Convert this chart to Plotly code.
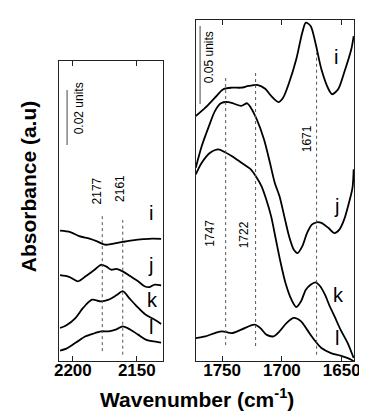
import plotly.graph_objects as go

# ---------------- data (absorbance in milli-units, stacked offsets) ----------------
# Left panel (CO region)
L_i_wn = [2210, 2202, 2195, 2187, 2181, 2175, 2169, 2161, 2152, 2145, 2138, 2131]
L_i_a = [47.5, 47.0, 45.5, 44.6, 43.6, 42.4, 42.7, 43.4, 44.1, 44.4, 44.6, 44.5]

L_j_wn = [2210, 2203, 2196, 2190, 2183, 2178, 2174, 2170, 2166, 2161, 2155, 2149, 2144, 2140, 2136, 2131]
L_j_a = [31.3, 30.7, 29.1, 30.9, 33.3, 35.1, 34.5, 33.3, 33.6, 32.7, 30.9, 29.1, 27.3, 27.0, 27.9, 27.6]

L_k_wn = [2210, 2205, 2198, 2192, 2185, 2178, 2172, 2166, 2161, 2156, 2150, 2143, 2136, 2131]
L_k_a = [12.1, 13.1, 15.7, 19.4, 22.4, 21.8, 22.4, 24.0, 25.5, 23.0, 20.0, 16.9, 15.1, 13.6]

L_l_wn = [2210, 2205, 2197, 2190, 2183, 2178, 2172, 2166, 2161, 2155, 2149, 2143, 2138, 2131]
L_l_a = [3.9, 4.6, 7.0, 9.1, 10.2, 10.9, 10.9, 11.6, 12.7, 11.5, 9.7, 7.9, 7.3, 6.8]

# Right panel (C=O region)
R_i_wn = [1772, 1764, 1756, 1749, 1742, 1734, 1728, 1720, 1714, 1709, 1703, 1699, 1694,
          1688, 1683, 1680, 1676, 1672, 1667, 1661, 1658, 1653, 1648, 1642, 1640]
R_i_a = [157.2, 162.6, 169.0, 174.4, 175.4, 175.4, 176.5, 177.1, 174.7, 170.1, 166.2, 169.0, 178.6,
         193.6, 210.6, 217.1, 214.9, 204.2, 187.2, 174.4, 171.2, 174.4, 185.0, 200.0, 208.5]

R_j_wn = [1772, 1767, 1761, 1756, 1751, 1745, 1740, 1734, 1729, 1726, 1721, 1715, 1710, 1706,
          1702, 1698, 1694, 1690, 1687, 1683, 1679, 1675, 1671, 1667, 1661, 1656, 1652, 1648,
          1644, 1641, 1640]
R_j_a = [124.1, 138.0, 150.8, 160.4, 165.4, 166.2, 165.1, 163.7, 165.4, 162.6, 155.1, 142.3, 127.3, 114.5,
         105.8, 92.9, 80.1, 71.5, 69.4, 73.7, 82.2, 87.6, 89.1, 88.7, 85.4, 82.2, 84.4, 90.8,
         101.5, 111.1, 123.1]

R_k_wn = [1772, 1767, 1760, 1753, 1748, 1742, 1737, 1732, 1726, 1721, 1717, 1713, 1709, 1705,
          1701, 1697, 1692, 1688, 1684, 1680, 1676, 1672, 1668, 1664, 1660, 1656, 1651, 1645, 1640]
R_k_a = [119.9, 127.3, 133.7, 135.9, 134.2, 131.6, 129.0, 126.3, 123.1, 117.7, 112.2, 103.6, 92.9, 77.9,
         63.0, 50.2, 39.5, 34.8, 38.5, 45.9, 49.1, 50.6, 48.1, 42.7, 35.3, 28.8, 20.3, 11.7, 2.1]

R_l_wn = [1772, 1764, 1756, 1750, 1742, 1734, 1723, 1718, 1713, 1707, 1702, 1696, 1690, 1684,
          1679, 1673, 1667, 1659, 1651, 1642, 1640]
R_l_a = [14.9, 16.0, 18.1, 19.2, 18.1, 20.3, 23.5, 21.3, 17.1, 16.0, 19.2, 24.6, 27.8, 25.6,
         20.3, 13.8, 8.5, 5.3, 3.6, 1.0, 0.0]

curve_names = ["i", "j", "k", "l"]
left_peaks = [2177, 2161]
right_peaks = [1747, 1722, 1671]
left_ticks = [2200, 2150]
right_ticks = [1750, 1700, 1650]

FONT = "Liberation Sans, Arial, sans-serif"

fig = go.Figure()
left_series = [(L_i_wn, L_i_a), (L_j_wn, L_j_a), (L_k_wn, L_k_a), (L_l_wn, L_l_a)]
right_series = [(R_i_wn, R_i_a), (R_j_wn, R_j_a), (R_k_wn, R_k_a), (R_l_wn, R_l_a)]
for name, (x, y) in zip(curve_names, left_series):
    fig.add_trace(go.Scatter(x=x, y=y, mode="lines", name=name, xaxis="x", yaxis="y",
                             line=dict(color="black", width=1.8, shape="spline", smoothing=0.8)))
for name, (x, y) in zip(curve_names, right_series):
    fig.add_trace(go.Scatter(x=x, y=y, mode="lines", name=name, xaxis="x2", yaxis="y2",
                             line=dict(color="black", width=1.8, shape="spline", smoothing=0.8)))

# dotted peak markers
left_peak_spans = [(3.7, 53.2), (2.4, 51.4)]
right_peak_spans = [(10.4, 181.6), (9.8, 186.1), (4.2, 198.0)]
shapes = []
for wn, (y0, y1) in zip(left_peaks, left_peak_spans):
    shapes.append(dict(type="line", xref="x", yref="y", x0=wn, x1=wn, y0=y0, y1=y1,
                       line=dict(color="#555", width=1, dash="dot")))
for wn, (y0, y1) in zip(right_peaks, right_peak_spans):
    shapes.append(dict(type="line", xref="x2", yref="y2", x0=wn, x1=wn, y0=y0, y1=y1,
                       line=dict(color="#555", width=1, dash="dot")))
# scale bars
shapes.append(dict(type="line", xref="x", yref="y", x0=2204.5, x1=2204.5, y0=78.7, y1=98.7,
                   line=dict(color="#666", width=1.2)))
shapes.append(dict(type="line", xref="x2", yref="y2", x0=1768.4, x1=1768.4, y0=165, y1=215,
                   line=dict(color="#666", width=1.2)))

ann = []
def add_text(x, y, xref, yref, text, size, angle=0, bold=False, xshift=0, yshift=0):
    f = dict(family=FONT, size=size, color="black")
    if bold:
        f["weight"] = "bold"
    ann.append(dict(x=x, y=y, xref=xref, yref=yref, text=text, showarrow=False, textangle=angle,
                    xanchor="center", yanchor="middle", xshift=xshift, yshift=yshift, font=f))

# peak labels
for wn, (px, py) in zip(left_peaks, [(2177.7, 61.9), (2160, 62.7)]):
    add_text(px, py, "x", "y", str(wn), 12, -90, xshift=-4)
for wn, (px, py) in zip(right_peaks, [(1757, 82.2), (1728, 81.0), (1675.5, 142.5)]):
    add_text(px, py, "x2", "y2", str(wn), 12, -90, xshift=-4)
# scale bar labels
add_text(2191.8, 92.1, "x", "y", "0.02 units", 12, -90, xshift=-4)
add_text(1757.5, 195, "x2", "y2", "0.05 units", 12, -90, xshift=-4)
# curve letters
for name, (px, py) in zip(curve_names, [(2139.1, 52.1), (2139.1, 33.2), (2137.6, 20.5), (2139.1, 10.7)]):
    add_text(px, py, "x", "y", name, 20, yshift=5)
for name, (px, py) in zip(curve_names, [(1654.6, 191.9), (1654.6, 96.3), (1652.6, 39.3), (1654.1, 11.7)]):
    add_text(px, py, "x2", "y2", name, 20, yshift=5)
# axis titles
add_text(0.5177, 0.0625, "paper", "paper", "Wavenumber (cm<sup>-1</sup>)", 21, 0, True)
add_text(0.068, 0.572, "paper", "paper", "Absorbance (a.u)", 21, -90, True, xshift=-9)

xcommon = dict(autorange=False, showline=True, mirror="ticks", linecolor="#222", linewidth=1.3,
               ticks="inside", ticklen=5, tickwidth=1, tickcolor="#222", showgrid=False, zeroline=False,
               ticklabelstandoff=-7,
               tickfont=dict(family=FONT, size=17, color="black", weight="bold"))
ycommon = dict(autorange=False, showline=True, mirror=True, linecolor="#222", linewidth=1.3,
               ticks="", showticklabels=False, showgrid=False, zeroline=False)

fig.update_layout(
    width=367, height=416, margin=dict(l=0, r=0, t=0, b=0),
    paper_bgcolor="white", plot_bgcolor="white", showlegend=False,
    xaxis=dict(domain=[0.130, 0.4204], range=[2210.6, 2129.8], tickvals=left_ticks,
               anchor="y", **xcommon),
    yaxis=dict(domain=[0.1507, 0.8726], range=[0, 109.2], anchor="x", **ycommon),
    xaxis2=dict(domain=[0.5131, 0.9583], range=[1772.1, 1639.6], tickvals=right_ticks,
                anchor="y2", **xcommon),
    yaxis2=dict(domain=[0.1507, 0.9712], range=[0, 218.8], anchor="x2", **ycommon),
    shapes=shapes, annotations=ann,
)

fig.write_html("out.html")
